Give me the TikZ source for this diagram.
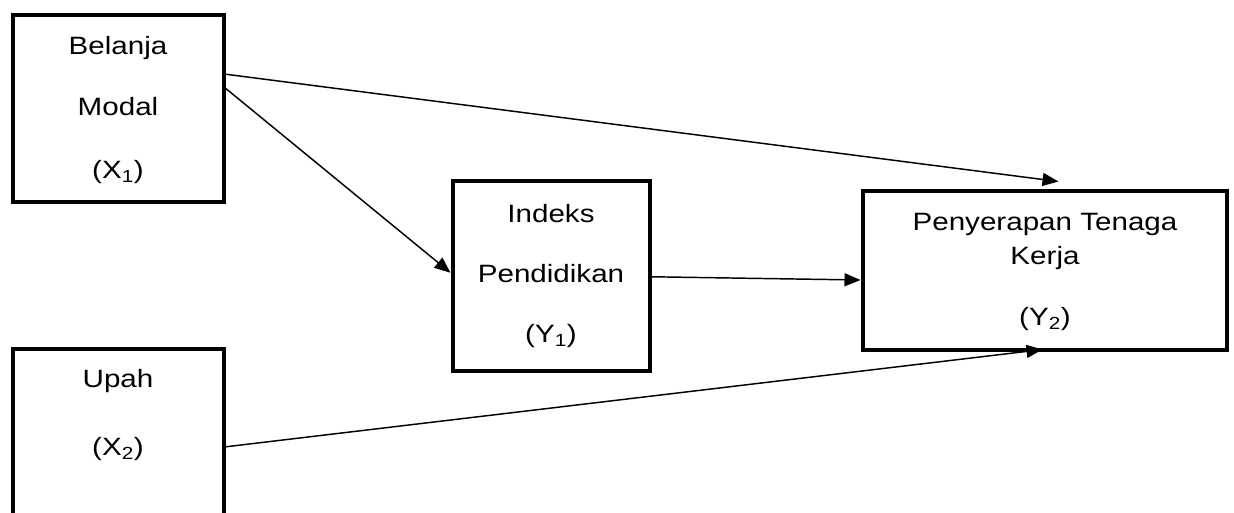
\documentclass[tikz,border=0pt]{standalone}
\usepackage{fontspec}
\setmainfont{Liberation Sans}[FakeStretch=1.18]
\usetikzlibrary{arrows.meta,calc}
\begin{document}
\begin{tikzpicture}[x=0.75pt,y=-0.75pt,
  box/.style={draw, line width=3pt, rectangle, inner sep=0pt, outer sep=0pt},
  lbl/.style={font=\fontsize{18.8}{22}\selectfont, anchor=base, inner sep=0pt},
  conn/.style={line width=1.1pt, -{Triangle[length=12pt,width=9.75pt]}}]
\clip (0,0) rectangle (1234,512);
\fill[white] (0,0) rectangle (1234,512);
% boxes
\node[box, minimum width=158.25pt, minimum height=140.25pt] (x1) at (118.5,108.5) {};
\node[box, minimum width=158.25pt, minimum height=143.25pt] (x2) at (118.5,444.5) {};
\node[box, minimum width=147.75pt, minimum height=142.125pt] (y1) at (551,275.75) {};
\node[box, minimum width=273pt, minimum height=119.25pt] (y2) at (1044.5,270) {};
% texts
\node[lbl] (t1) at (118,54) {Belanja};
\node[lbl] (t2) at (118,115) {Modal};
\node[lbl] (t3) at (118,178) {(X\textsubscript{1})};
\node[lbl] (t4) at (118,387) {Upah};
\node[lbl] (t5) at (118,455) {(X\textsubscript{2})};
\node[lbl] (t6) at (551,222) {Indeks};
\node[lbl] (t7) at (551,282) {Pendidikan};
\node[lbl] (t8) at (551,342) {(Y\textsubscript{1})};
\node[lbl] (t9) at (1045,230) {Penyerapan Tenaga};
\node[lbl] (t10) at (1045,264) {Kerja};
\node[lbl] (t11) at (1045,325) {(Y\textsubscript{2})};
% connectors
\draw[conn] ($(x1.north east)+(0,59)$) -- ($(y2.north west)+(196,-9)$);
\draw[conn] ($(x1.north east)+(0,72)$) -- ($(y1.west)+(-2,-3)$);
\draw[conn] ($(y1.east)+(1,1)$) -- ($(y2.west)+(-2,10)$);
\draw[conn] ($(x2.north east)+(0,98)$) -- ($(y2.south west)+(180,0)$);
\end{tikzpicture}
\end{document}
